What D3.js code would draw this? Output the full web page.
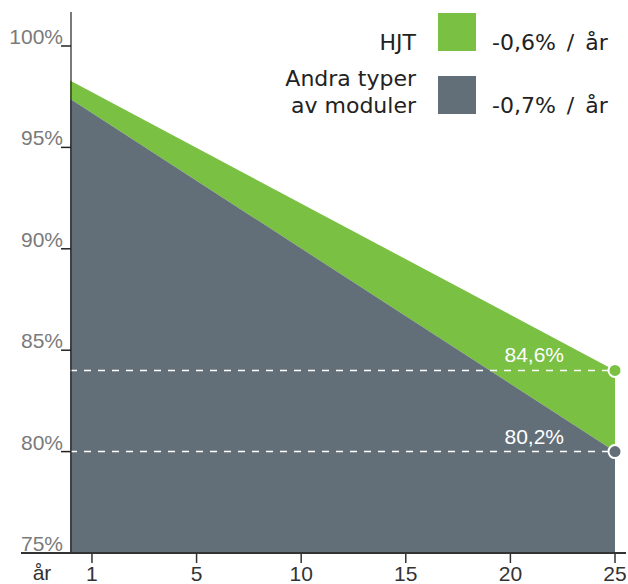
<!DOCTYPE html>
<html><head><meta charset="utf-8">
<script src="https://cdn.jsdelivr.net/npm/d3@7"></script>
<style>body{margin:0;background:#fff}svg{display:block}</style>
</head><body><svg id="c" width="628" height="584"></svg>
<script>
// ---- data ----
const yearLabels = ["1", "5", "10", "15", "20", "25"];
const yTicks = [75, 80, 85, 90, 95, 100];
const seriesNames = ["HJT", "Andra typer av moduler"];
const seriesRates = ["-0,6% / år", "-0,7% / år"];
const hjtValues = [98.3, 84.0];     // start of period, year 25
const otherValues = [97.4, 80.0];   // start of period, year 25
const endLabels = ["84,6%", "80,2%"];
const colors = ["#79c043", "#636f78"];

const svg = d3.select("#c");
const font = "'Liberation Sans', Arial, sans-serif";
const legendFont = "'DejaVu Sans', sans-serif";

const y = d3.scaleLinear().domain([75, 100]).range([553, 46]);
// x positions: evenly spaced tick slots (index of yearLabels), plot starts a bit left of year 1
const x = d3.scaleLinear().domain([-0.21, yearLabels.length - 1]).range([70, 615]);
const xStart = x.domain()[0], xEnd = yearLabels.indexOf("25");

const pts = [xStart, xEnd].map((p, i) => ({ p, hjt: hjtValues[i], other: otherValues[i] }));

// areas
svg.append("path").datum(pts)
  .attr("fill", colors[0])
  .attr("d", d3.area().x(d => x(d.p)).y0(d => y(d.other)).y1(d => y(d.hjt)));
svg.append("path").datum(pts)
  .attr("fill", colors[1])
  .attr("d", d3.area().x(d => x(d.p)).y0(y(75)).y1(d => y(d.other)));

// dashed reference lines
const ends = [hjtValues[1], otherValues[1]];
ends.forEach((v, i) => {
  svg.append("line")
    .attr("x1", x(xStart)).attr("x2", x(xEnd))
    .attr("y1", y(v)).attr("y2", y(v))
    .attr("stroke", "#fff").attr("stroke-width", 1.5).attr("stroke-dasharray", "7,7");
  svg.append("text")
    .attr("x", x(xEnd) - 51).attr("y", y(v) - 8)
    .attr("text-anchor", "end")
    .attr("font-family", font).attr("font-size", 21).attr("fill", "#fff")
    .text(endLabels[i]);
  svg.append("circle")
    .attr("cx", x(xEnd)).attr("cy", y(v)).attr("r", 6.5)
    .attr("fill", colors[i]).attr("stroke", "#fff").attr("stroke-width", 2);
});

// y axis
const yAxis = svg.append("g").attr("transform", "translate(71,0)");
yAxis.append("line").attr("x1", 0).attr("x2", 0).attr("y1", 12).attr("y2", 553)
  .attr("stroke", "#222").attr("stroke-width", 1.2);
yTicks.forEach(t => {
  if (t !== 75) {
    yAxis.append("line").attr("x1", -10).attr("x2", 0).attr("y1", y(t)).attr("y2", y(t))
      .attr("stroke", "#222").attr("stroke-width", 1.5);
  }
  yAxis.append("text").attr("x", -8).attr("y", y(t) - 2)
    .attr("text-anchor", "end").attr("font-family", font).attr("font-size", 21)
    .attr("fill", "#7a7a7a").text(t + "%");
});

// x axis
const xAxis = svg.append("g");
xAxis.append("line").attr("x1", 21).attr("x2", 626).attr("y1", 553).attr("y2", 553)
  .attr("stroke", "#333").attr("stroke-width", 2);
yearLabels.forEach((lab, i) => {
  xAxis.append("line").attr("x1", x(i)).attr("x2", x(i)).attr("y1", 553).attr("y2", 563)
    .attr("stroke", "#333").attr("stroke-width", 1.5);
  xAxis.append("text").attr("x", x(i)).attr("y", 581).attr("text-anchor", "middle")
    .attr("font-family", font).attr("font-size", 21).attr("fill", "#333").text(lab);
});
xAxis.append("text").attr("x", 42).attr("y", 580).attr("text-anchor", "middle")
  .attr("font-family", font).attr("font-size", 21).attr("fill", "#333").text("år");

// legend
const lg = svg.append("g");
const rows = [{ sq: 13, lines: ["HJT"], base: [50], rate: 50 },
              { sq: 76, lines: ["Andra typer", "av moduler"], base: [86, 113], rate: 113 }];
rows.forEach((r, i) => {
  lg.append("rect").attr("x", 438).attr("y", r.sq).attr("width", 38).attr("height", 38)
    .attr("fill", colors[i]);
  r.lines.forEach((l, j) => {
    lg.append("text").attr("x", 416).attr("y", r.base[j]).attr("text-anchor", "end")
      .attr("font-family", legendFont).attr("font-size", 22).attr("fill", "#222").text(l);
  });
  lg.append("text").attr("x", 492).attr("y", r.rate)
    .attr("font-family", legendFont).attr("font-size", 22).attr("fill", "#222")
    .attr("word-spacing", 4).text(seriesRates[i]);
});
</script></body></html>
